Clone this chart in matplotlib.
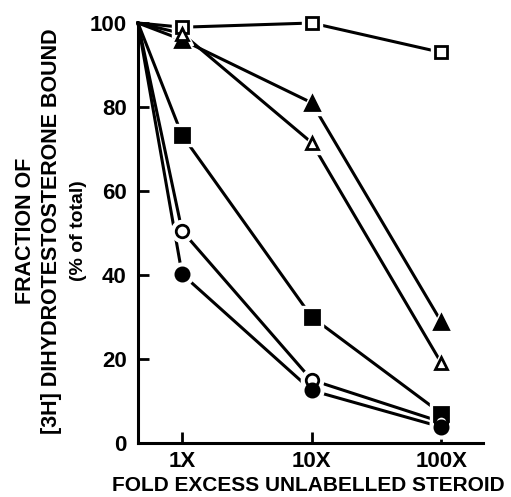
import numpy as np
import matplotlib
matplotlib.use('Agg')
import matplotlib.pyplot as plt

plt.rcParams['font.family'] = ['Liberation Sans', 'DejaVu Sans']
plt.rcParams['font.weight'] = 'bold'

# x positions: control (no competitor), then log10 of fold excess
fold_labels = ['1X', '10X', '100X']
fold_pos = [0, 1, 2]
ctrl_pos = -0.34
x = [ctrl_pos] + fold_pos

# % of total bound, control first
open_sq = [100, 99, 100, 93]
filled_tri = [100, 96, 81, 28.8]
open_tri = [100, 97.5, 71.5, 19]
filled_sq = [100, 73.3, 30, 7]
open_circ = [100, 50.5, 15, 5]
filled_circ = [100, 40.2, 12.5, 3.8]

series = [
    (open_sq, 's', 'white', 8),
    (filled_tri, '^', 'black', 10),
    (open_tri, '^', 'white', 9),
    (filled_sq, 's', 'black', 9.5),
    (open_circ, 'o', 'white', 9),
    (filled_circ, 'o', 'black', 9.5),
]

fig = plt.figure(figsize=(5.11, 4.97), dpi=100)
ax = fig.add_axes([0.270, 0.1087, 0.675, 0.845])

for y, m, fc, ms in series:
    ax.plot(x, y, '-', color='black', lw=2.2, zorder=2, clip_on=False)
    # white halo so the line stops short of the marker
    ax.plot(x[1:], y[1:], m, color='white', ms=ms + 7, mec='white',
            zorder=3, clip_on=False)
    ax.plot(x[1:], y[1:], m, mfc=fc, mec='black', mew=2, ms=ms,
            zorder=4, clip_on=False)

ax.set_xlim(ctrl_pos, 2.32)
ax.set_ylim(0, 100)
ax.set_xticks(fold_pos)
ax.set_xticklabels(fold_labels)
ax.set_yticks([0, 20, 40, 60, 80, 100])

for s in ['top', 'right']:
    ax.spines[s].set_visible(False)
for s in ['left', 'bottom']:
    ax.spines[s].set_linewidth(2.2)

ax.tick_params(direction='in', length=8, width=2, labelsize=16)
ax.tick_params(axis='y', pad=8)
ax.tick_params(axis='x', pad=6)
for lab in ax.get_xticklabels() + ax.get_yticklabels():
    lab.set_fontweight('bold')

ax.set_xlabel('FOLD EXCESS UNLABELLED STEROID', fontsize=15,
              fontweight='bold')
ax.xaxis.set_label_coords(0.493, -0.079)

fig.text(0.049, 0.535, 'FRACTION OF', rotation=90, fontsize=15.5,
         fontweight='bold', ha='center', va='center')
fig.text(0.100, 0.535, '[3H] DIHYDROTESTOSTERONE BOUND', rotation=90,
         fontsize=15.5, fontweight='bold', ha='center', va='center')
fig.text(0.153, 0.535, '(% of total)', rotation=90, fontsize=14,
         fontweight='bold', ha='center', va='center')

fig.savefig('out.png', dpi=100)
